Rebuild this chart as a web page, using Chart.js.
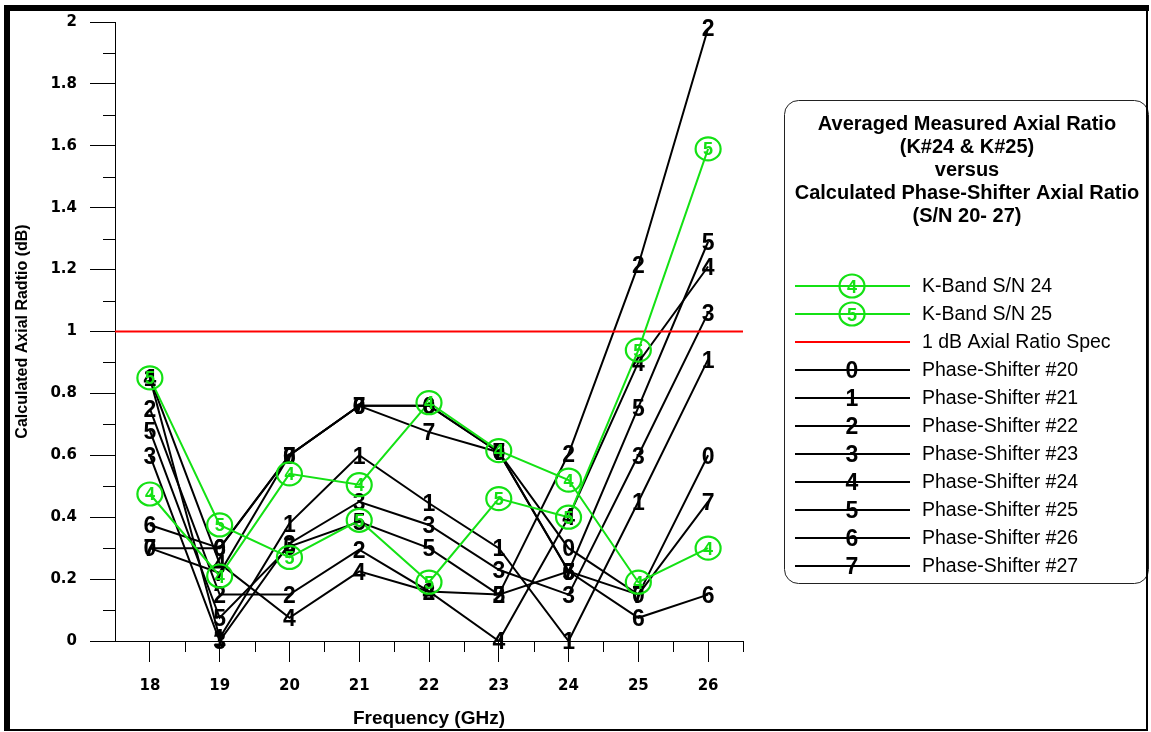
<!DOCTYPE html>
<html>
<head>
<meta charset="utf-8">
<script src="https://cdn.jsdelivr.net/npm/chart.js@4/dist/chart.umd.min.js"></script>
<style>
    html, body { margin: 0; padding: 0; background: #fff; }
    #wrap { width: 1151px; height: 732px; position: relative; }
</style>
</head>
<body>
<div id="wrap"><canvas id="chart" width="1151" height="732"></canvas></div>
<script>
// frequencies (GHz)
var freqGHz = [18, 19, 20, 21, 22, 23, 24, 25, 26];

// averaged measured axial ratio (dB)
var kBand24 = [0.475, 0.21, 0.54, 0.505, 0.77, 0.615, 0.52, 0.19, 0.30];
var kBand25 = [0.85, 0.375, 0.27, 0.39, 0.19, 0.46, 0.40, 0.94, 1.59];

// 1 dB spec line, drawn across the full frequency axis
var specFreq = [17.5, 26.5];
var specLevel = [1, 1];

// calculated phase-shifter axial ratio (dB)
var ps20 = [0.30, 0.30, 0.60, 0.76, 0.76, 0.61, 0.30, 0.15, 0.60];
var ps21 = [0.85, 0.01, 0.38, 0.60, 0.445, 0.30, 0.00, 0.45, 0.91];
var ps22 = [0.75, 0.15, 0.15, 0.295, 0.16, 0.15, 0.605, 1.215, 1.98];
var ps23 = [0.60, 0.00, 0.315, 0.45, 0.375, 0.23, 0.15, 0.60, 1.06];
var ps24 = [0.85, 0.25, 0.075, 0.225, 0.16, 0.00, 0.40, 0.90, 1.21];
var ps25 = [0.68, 0.075, 0.305, 0.385, 0.30, 0.15, 0.225, 0.755, 1.29];
var ps26 = [0.375, 0.30, 0.60, 0.76, 0.76, 0.61, 0.225, 0.075, 0.15];
var ps27 = [0.30, 0.22, 0.60, 0.76, 0.675, 0.61, 0.225, 0.15, 0.45];

var yTicks = [0, 0.2, 0.4, 0.6, 0.8, 1, 1.2, 1.4, 1.6, 1.8, 2];

var legendTitle = [
    "Averaged Measured Axial Ratio",
    "(K#24 & K#25)",
    "versus",
    "Calculated Phase-Shifter Axial Ratio",
    "(S/N 20- 27)"
];

var green = "rgb(20, 225, 20)";

function toXY(xs, ys) {
    return xs.map((x, i) => ({ x: x, y: ys[i] }));
}

var datasets = [
    { label: "K-Band S/N 24", data: toXY(freqGHz, kBand24), borderColor: green, borderWidth: 2, order: 0, digit: "4", circled: true },
    { label: "K-Band S/N 25", data: toXY(freqGHz, kBand25), borderColor: green, borderWidth: 2, order: 0, digit: "5", circled: true },
    { label: "1 dB Axial Ratio Spec", data: toXY(specFreq, specLevel), borderColor: "#ff0000", borderWidth: 2, order: 1 }
];
[ps20, ps21, ps22, ps23, ps24, ps25, ps26, ps27].forEach((ys, i) => {
    datasets.push({
        label: "Phase-Shifter #" + (20 + i),
        data: toXY(freqGHz, ys),
        borderColor: "#000",
        borderWidth: 2,
        order: 2,
        digit: String(i)
    });
});

datasets.forEach(ds => {
    ds.pointRadius = 0;
    ds.pointHoverRadius = 0;
    ds.tension = 0;
    ds.fill = false;
});

// draws a marker digit (plain or circled) centred on a point
function drawMarker(ctx, ds, x, y) {
    ctx.save();
    ctx.textAlign = "center";
    ctx.textBaseline = "alphabetic";
    if (ds.circled) {
        ctx.strokeStyle = ds.borderColor;
        ctx.lineWidth = 2.2;
        ctx.beginPath();
        ctx.ellipse(x, y, 12.5, 11.5, 0, 0, Math.PI * 2);
        ctx.stroke();
        ctx.fillStyle = ds.borderColor;
        ctx.font = "bold 18px 'Liberation Sans', Arial, sans-serif";
        ctx.fillText(ds.digit, x, y + 6.5);
    } else {
        ctx.fillStyle = "#000";
        ctx.font = "bold 23px 'Liberation Sans', Arial, sans-serif";
        ctx.fillText(ds.digit, x, y + 8.2);
    }
    ctx.restore();
}

var decorPlugin = {
    id: "decor",
    beforeDraw(chart) {
        var ctx = chart.ctx;
        ctx.save();
        ctx.fillStyle = "#fff";
        ctx.fillRect(0, 0, chart.width, chart.height);
        ctx.restore();
    },
    afterDatasetsDraw(chart) {
        var ctx = chart.ctx;
        var xs = chart.scales.x, ys = chart.scales.y;
        var area = chart.chartArea;

        // minor ticks
        ctx.save();
        ctx.strokeStyle = "#000";
        ctx.lineWidth = 1;
        ctx.beginPath();
        for (var v = 0.1; v < 2; v += 0.2) {
            var py = Math.round(ys.getPixelForValue(v)) + 0.5;
            ctx.moveTo(area.left - 12, py);
            ctx.lineTo(area.left, py);
        }
        freqGHz.forEach(f => {
            var px = Math.round(xs.getPixelForValue(f + 0.5)) + 0.5;
            ctx.moveTo(px, area.bottom);
            ctx.lineTo(px, area.bottom + 11);
        });
        ctx.stroke();
        ctx.restore();

        // digit markers: black first, green on top
        var idx = chart.data.datasets.map((d, i) => i).filter(i => chart.data.datasets[i].digit);
        idx.sort((a, b) => chart.data.datasets[b].order - chart.data.datasets[a].order);
        idx.forEach(i => {
            var ds = chart.data.datasets[i];
            chart.getDatasetMeta(i).data.forEach(pt => drawMarker(ctx, ds, pt.x, pt.y));
        });
    },
    afterDraw(chart) {
        var ctx = chart.ctx;
        ctx.save();

        // legend box
        ctx.strokeStyle = "#222";
        ctx.lineWidth = 1;
        ctx.beginPath();
        ctx.roundRect(784.5, 100.5, 364, 483, 14);
        ctx.stroke();

        ctx.fillStyle = "#000";
        ctx.textAlign = "center";
        ctx.textBaseline = "middle";
        ctx.font = "bold 20px 'Liberation Sans', Arial, sans-serif";
        legendTitle.forEach((t, i) => ctx.fillText(t, 967, 124 + i * 23));

        chart.data.datasets.forEach((ds, i) => {
            var y = 286 + i * 28;
            ctx.strokeStyle = ds.borderColor;
            ctx.lineWidth = ds.borderWidth;
            ctx.beginPath();
            ctx.moveTo(795, y);
            ctx.lineTo(910, y);
            ctx.stroke();
            if (ds.digit) drawMarker(ctx, ds, 852, y);
            ctx.fillStyle = "#000";
            ctx.textAlign = "left";
            ctx.textBaseline = "middle";
            ctx.font = "19.5px 'Liberation Sans', Arial, sans-serif";
            ctx.fillText(ds.label, 922, y + 1);
        });

        // outer frame: heavy top/left, light right/bottom
        ctx.fillStyle = "#000";
        ctx.fillRect(4, 5, 6, 726);
        ctx.fillRect(4, 5, 1145, 6);
        ctx.fillRect(1146, 5, 2, 726);
        ctx.fillRect(4, 729, 1144, 2);
        ctx.restore();
    }
};

var tickFont = { family: "'DejaVu Sans', sans-serif", weight: "bold", size: 15 };

new Chart(document.getElementById("chart"), {
    type: "line",
    data: { datasets: datasets },
    options: {
        responsive: false,
        animation: false,
        events: [],
        layout: { padding: { left: 10, top: 22, right: 408, bottom: 0 } },
        plugins: { legend: { display: false }, tooltip: { enabled: false } },
        scales: {
            x: {
                type: "linear",
                min: 17.5,
                max: 26.5,
                afterBuildTicks: s => { s.ticks = freqGHz.map(v => ({ value: v })); },
                afterFit: s => { s.height = 91; },
                ticks: { font: tickFont, color: "#000", padding: 15, autoSkip: false, maxRotation: 0, callback: v => String(v) },
                grid: { drawOnChartArea: false, tickLength: 21, color: "#000", tickWidth: 1 },
                border: { color: "#000", width: 1 },
                title: {
                    display: true,
                    text: "Frequency (GHz)",
                    color: "#000",
                    font: { family: "'Liberation Sans', Arial, sans-serif", weight: "bold", size: 19 },
                    padding: { top: 0, bottom: 2 }
                }
            },
            y: {
                min: 0,
                max: 2,
                afterBuildTicks: s => { s.ticks = yTicks.map(v => ({ value: v })); },
                afterFit: s => { s.width = 105; },
                ticks: { font: tickFont, color: "#000", padding: 13, callback: v => String(Math.round(v * 10) / 10) },
                grid: { drawOnChartArea: false, tickLength: 25, color: "#000", tickWidth: 1 },
                border: { color: "#000", width: 1 },
                title: {
                    display: true,
                    text: "Calculated Axial Radtio (dB)",
                    color: "#000",
                    font: { family: "'Liberation Sans Narrow', 'Liberation Sans', Arial, sans-serif", weight: "bold", size: 16 },
                    padding: { top: 3, bottom: 0 }
                }
            }
        }
    },
    plugins: [decorPlugin]
});
</script>
</body>
</html>
